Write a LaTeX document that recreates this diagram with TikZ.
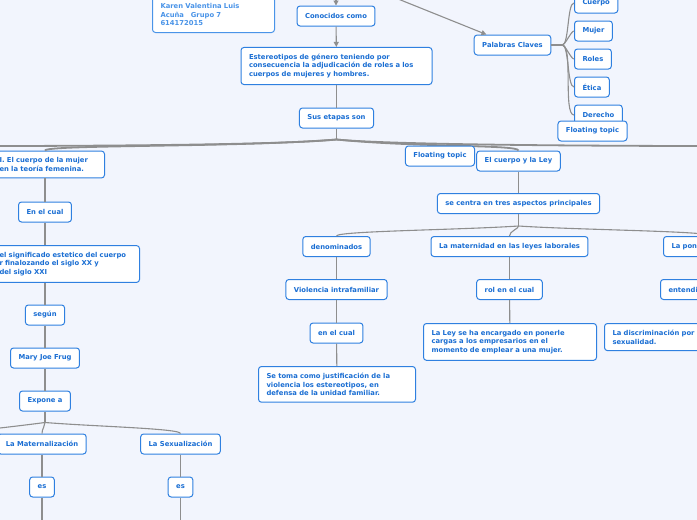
\documentclass[tikz,border=0pt]{standalone}
\usepackage{fontspec}
\setsansfont{DejaVu Sans}
\usepackage{xcolor}
\definecolor{cBack}{HTML}{F2F5FD}
\definecolor{cMain}{HTML}{2F80E0}
\definecolor{cText}{HTML}{1A6ED3}
\definecolor{cSoft}{HTML}{4A94E8}
\definecolor{cLine}{HTML}{8E8E8E}
\usetikzlibrary{positioning,arrows.meta,calc}
\tikzset{
  topic/.style={draw=cMain,line width=1pt,fill=white,rounded corners=3pt,
    text=cText,font=\sffamily\bfseries\fontsize{6.8}{8.6}\selectfont,
    inner xsep=8pt,inner ysep=0pt,minimum height=20pt},
  topic-note/.style={topic,align=left,inner ysep=6.5pt},
  topic-cut/.style={topic,anchor=west,align=left,text width=80pt},
  link/.style={draw=cLine,line width=1.1pt},
  link-main/.style={draw=cLine,line width=1.8pt},
  link-arrow/.style={link,-{Triangle[length=5pt,width=5pt]}},
}

\begin{document}
\begin{tikzpicture}[x=1pt,y=-1pt]
  \useasboundingbox (0,0) rectangle (697,520);
  \fill[cBack] (0,0) rectangle (697,520);
  \clip (0,0) rectangle (697,520);

  % top part
  \node[topic-note,anchor=south west,draw=cSoft,text=cSoft,text width=106pt] (autora) at (152,33)
    {Karen Valentina Luis\\Acuña\ \ \ Grupo 7\\614172015};
  \node[topic] (conocidos) at (336,16) {Conocidos como};
  \node[topic-note,text width=175pt] (estereo) at (336.5,66)
    {Estereotipos de género teniendo por\\consecuencia la adjudicación de roles a los\\cuerpos de mujeres y hombres.};
  \node[topic] (etapas) at (336.5,118) {Sus etapas son};
  \node[topic] (claves) at (512.5,45) {Palabras Claves};
  \node[topic,anchor=west] (kwCuerpo) at (574,3) {Cuerpo};
  \node[topic,anchor=west] (kwMujer) at (574,31) {Mujer};
  \node[topic,anchor=west] (kwRoles) at (574,59) {Roles};
  \node[topic,anchor=west] (kwEtica) at (574,87) {Ética};
  \node[topic,anchor=west] (kwDerecho) at (574,115) {Derecho};

  % left branch
  \node[topic-note,anchor=east,text width=97pt] (cuerpoMujer) at (105,164.5)
    {I. El cuerpo de la mujer\\en la teoría femenina.};
  \node[topic] (enCual) at (45,212) {En el cual};
  \node[topic-note,anchor=east,text width=132pt] (significado) at (140,264)
    {el significado estetico del cuerpo\\r finalozando el siglo XX y\\del siglo XXI};
  \node[topic] (segun) at (45,315) {según};
  \node[topic] (frug) at (45,358) {Mary Joe Frug};
  \node[topic] (expone) at (45,401) {Expone a};
  \node[topic] (matern) at (42,444) {La Maternalización};
  \node[topic] (sexual) at (180.5,444) {La Sexualización};
  \node[topic] (esA) at (42,487) {es};
  \node[topic] (esB) at (180.5,487) {es};

  % right branch
  \node[topic] (ley) at (518.5,161) {El cuerpo y la Ley};
  \node[topic] (centra) at (518.5,203.5) {se centra en tres aspectos principales};
  \node[topic] (denom) at (336.5,246.5) {denominados};
  \node[topic] (laboral) at (509.5,246.5) {La maternidad en las leyes laborales};
  \node[topic-cut] (ponder) at (663,246.5) {La pon};
  \node[topic] (violencia) at (336.5,289.5) {Violencia intrafamiliar};
  \node[topic] (rolCual) at (509.5,289.5) {rol en el cual};
  \node[topic-cut] (entendi) at (660,289.5) {entendi};
  \node[topic] (enCualB) at (336.5,333) {en el cual};
  \node[topic-note,anchor=north west,text width=157pt] (empresarios) at (423,323)
    {La Ley se ha encargado en ponerle\\cargas a los empresarios en el\\momento de emplear a una mujer.};
  \node[topic-note,anchor=north west,text width=120pt] (discrim) at (604,323)
    {La discriminación por\\sexualidad.};
  \node[topic-note,anchor=north west,text width=141pt] (justif) at (258,366)
    {Se toma como justificación de la\\violencia los estereotipos, en\\defensa de la unidad familiar.};

  % connectors
  \coordinate (root) at (336,-26);
  \draw[link-arrow] (root) -- (conocidos.north);
  \draw[link-arrow] (root) -- (claves);
  \draw[link-arrow] (conocidos) -- (estereo);
  \draw[link] (estereo) -- (etapas);

  \draw[link] (claves.east) -- ++(11,0) coordinate (clavesJ);
  \foreach \kw in {kwCuerpo,kwMujer,kwRoles,kwEtica,kwDerecho}
    \draw[link] (clavesJ) to[out=0,in=180,looseness=0.4] (\kw.west);

  \coordinate (offL1) at (-10,146);
  \coordinate (offR1) at (710,146);
  \draw[link-main] (etapas.south) -- ++(0,11) coordinate (etapasJ);
  \draw[link-main] (etapasJ) .. controls +(-60,6) and +(60,0) .. (offL1);
  \draw[link-main] (etapasJ) .. controls +(-100,8) and +(0,-6) .. (enCual |- cuerpoMujer.north);
  \draw[link-main] (etapasJ) .. controls +(60,6) and +(-60,0) .. (offR1);
  \draw[link-main] (etapasJ) .. controls +(80,8) and +(0,-6) .. (ley.north);

  \draw[link] (cuerpoMujer.south -| enCual) -- (enCual.north);
  \draw[link] (enCual.south) -- (significado.north -| enCual);
  \draw[link] (significado.south -| segun) -- (segun.north);
  \draw[link] (segun) -- (frug);
  \draw[link] (frug) -- (expone);
  \coordinate (offL2) at (-30,431);
  \draw[link] (expone.south) -- ++(0,11) coordinate (exponeJ);
  \draw[link] (exponeJ) .. controls +(-15,2) and +(15,-1) .. (offL2);
  \draw[link] (exponeJ) .. controls +(0,4) and +(0,-5) .. (matern.north);
  \draw[link] (exponeJ) .. controls +(50,4) and +(0,-5) .. (sexual.north);
  \draw[link] (matern) -- (esA);
  \draw[link] (sexual) -- (esB);
  \coordinate (esAend) at (42,530);
  \coordinate (esBend) at (180.5,530);
  \draw[link] (esA.south) -- (esAend);
  \draw[link] (esB.south) -- (esBend);

  \draw[link] (ley) -- (centra);
  \draw[link] (centra.south) -- ++(0,12) coordinate (centraJ);
  \draw[link] (centraJ) .. controls +(-60,4) and +(0,-5) .. (denom.north);
  \draw[link] (centraJ) .. controls +(0,3) and +(0,-5) .. (laboral.north);
  \draw[link] (centraJ) .. controls +(60,4) and +(0,-5) .. (ponder.north);
  \draw[link] (denom) -- (violencia);
  \draw[link] (violencia) -- (enCualB);
  \draw[link] (enCualB) -- (justif);
  \draw[link] (laboral) -- (rolCual);
  \draw[link] (rolCual) -- (empresarios);

  % floating topics on top
  \node[topic] (flotA) at (592.5,131) {Floating topic};
  \node[topic] (flotB) at (440,156) {Floating topic};
\end{tikzpicture}
\end{document}
